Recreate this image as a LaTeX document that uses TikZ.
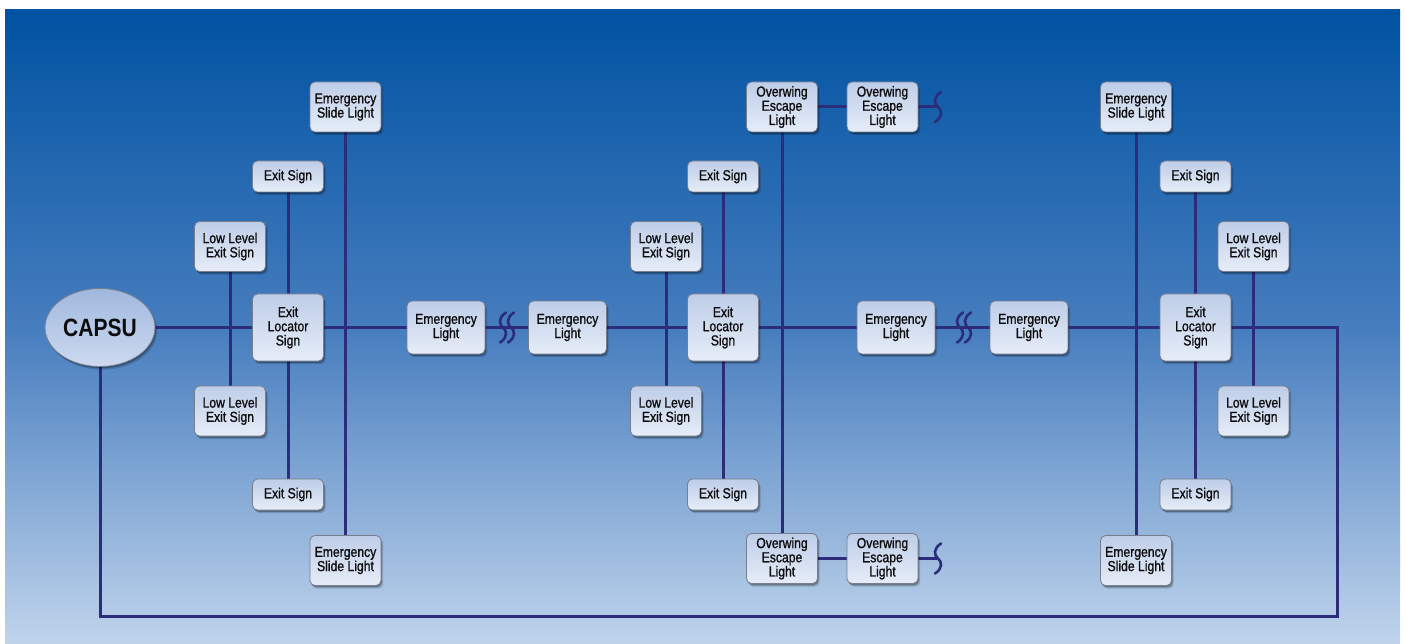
\documentclass[tikz,border=0pt]{standalone}
\usepackage{fontspec}
\setmainfont{Liberation Sans}[FakeStretch=0.84]
\newfontfamily\boxfont{Liberation Sans}[FakeStretch=0.84, FakeBold=1.1]
\usetikzlibrary{shadows,shapes.geometric}
\pgfdeclarelayer{back}
\pgfdeclarelayer{wires}
\pgfsetlayers{back,wires,main}
\definecolor{bgtop}{RGB}{0,82,162}
\definecolor{bgmid}{RGB}{70,125,190}
\definecolor{bgbot}{RGB}{192,212,236}
\definecolor{boxtop}{RGB}{190,205,232}
\definecolor{boxbot}{RGB}{230,237,248}
\definecolor{boxedge}{RGB}{120,126,142}
\definecolor{wirec}{RGB}{44,45,122}
\definecolor{elltop}{RGB}{160,184,222}
\definecolor{ellbot}{RGB}{205,218,240}
\begin{document}
\begin{tikzpicture}[x=1pt,y=-1pt,
  shad/.style={drop shadow={shadow xshift=1pt, shadow yshift=-1.8pt, opacity=0.28, fill=black},
               drop shadow={shadow xshift=2.2pt, shadow yshift=-3.2pt, opacity=0.16, fill=black}},
  box/.style={draw=boxedge, line width=0.8pt, rounded corners=5pt,
    top color=boxtop, bottom color=boxbot, align=center, inner sep=0pt,
    text=black!95, font=\boxfont\fontsize{14.5}{14.2}\selectfont, shad},
  onel/.style={box, minimum width=71pt, minimum height=31pt},
  twol/.style={box, minimum width=71pt, minimum height=50pt},
  threel/.style={box, minimum width=71pt, minimum height=67pt},
  emlight/.style={box, minimum width=78pt, minimum height=53pt},
  wire/.style={draw=wirec, line width=3pt},
  sbreak/.pic={\draw[draw=wirec, line width=2.6pt, line cap=round]
     (3,-15) .. controls (-5,-10) and (-4,-3) .. (0,0)
     .. controls (4,3) and (5,10) .. (-3,15);}
]
\useasboundingbox (0,0) rectangle (1405,644);
\begin{pgfonlayer}{back}
\shade[top color=bgtop, bottom color=bgbot, middle color=bgmid] (5,10) rectangle (1400,644);
\end{pgfonlayer}

% CAPSU
\node[ellipse, draw=boxedge, line width=0.8pt, top color=elltop, bottom color=ellbot,
  minimum width=110pt, minimum height=78pt, inner sep=0pt,
  font=\fontsize{25}{25}\selectfont\bfseries, text=black!95, shad]
  (capsu) at (100,327.5) {CAPSU};

% Left cluster
\node[twol] (slT1) at (345.5,107) {Emergency\\Slide Light};
\node[twol] (slB1) at (345.5,560.5) {Emergency\\Slide Light};
\node[onel] (esT1) at (288,176.5) {Exit Sign};
\node[onel] (esB1) at (288,494.5) {Exit Sign};
\node[twol] (llT1) at (230,246.5) {Low Level\\Exit Sign};
\node[twol] (llB1) at (230,411) {Low Level\\Exit Sign};
\node[threel] (els1) at (288,327.5) {Exit\\Locator\\Sign};

% Emergency lights
\node[emlight] (el1) at (446,327.5) {Emergency\\Light};
\node[emlight] (el2) at (567.5,327.5) {Emergency\\Light};
\node[emlight] (el3) at (896,327.5) {Emergency\\Light};
\node[emlight] (el4) at (1029,327.5) {Emergency\\Light};

% Middle cluster
\node[onel] (esT2) at (723,176.5) {Exit Sign};
\node[onel] (esB2) at (723,494.5) {Exit Sign};
\node[twol] (llT2) at (666,246.5) {Low Level\\Exit Sign};
\node[twol] (llB2) at (666,411) {Low Level\\Exit Sign};
\node[threel] (els2) at (723,327.5) {Exit\\Locator\\Sign};
\node[twol] (owT1) at (782,107) {Overwing\\Escape\\Light};
\node[twol] (owT2) at (882.5,107) {Overwing\\Escape\\Light};
\node[twol] (owB1) at (782,558.5) {Overwing\\Escape\\Light};
\node[twol] (owB2) at (882.5,558.5) {Overwing\\Escape\\Light};

% Right cluster
\node[twol] (slT3) at (1136,107) {Emergency\\Slide Light};
\node[twol] (slB3) at (1136,560.5) {Emergency\\Slide Light};
\node[onel] (esT3) at (1195.5,176.5) {Exit Sign};
\node[onel] (esB3) at (1195.5,494.5) {Exit Sign};
\node[twol] (llT3) at (1253.5,246.5) {Low Level\\Exit Sign};
\node[twol] (llB3) at (1253.5,411) {Low Level\\Exit Sign};
\node[threel] (els3) at (1195.5,327.5) {Exit\\Locator\\Sign};

% coordinates
\coordinate (bkT) at (937,107);
\coordinate (bkB) at (937,558.5);
\coordinate (cr) at (1337,327.5);
\coordinate (cbr) at (1337,616);
\coordinate (cbl) at (100,616);

\begin{pgfonlayer}{wires}
\draw[wire] (capsu) -- (el1) -- (el2) -- (el3) -- (el4) -- (cr) -- (cbr) -- (cbl) -- (capsu);
\foreach \c in {1,3}{
  \draw[wire] (slT\c) -- (slB\c);
}
\foreach \c in {1,2,3}{
  \draw[wire] (esT\c) -- (esB\c);
  \draw[wire] (llT\c) -- (llB\c);
}
\draw[wire] (owT1) -- (owB1);
\draw[wire] (owT1) -- (owT2) -- (bkT);
\draw[wire] (owB1) -- (owB2) -- (bkB);
\end{pgfonlayer}

% breaks
\pic at (503,327.5) {sbreak};
\pic at (511,327.5) {sbreak};
\pic at (960,327.5) {sbreak};
\pic at (968,327.5) {sbreak};
\pic at (938,107) {sbreak};
\pic at (938,558.5) {sbreak};
\end{tikzpicture}
\end{document}
